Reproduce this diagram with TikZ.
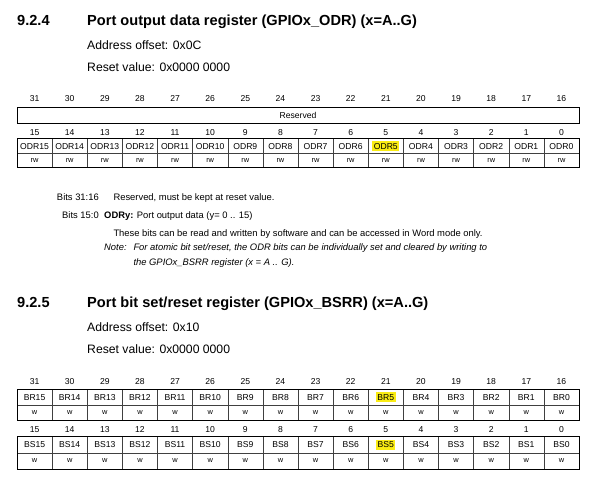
\documentclass[tikz,border=0pt]{standalone}
\usepackage{fontspec}
\setmainfont{Liberation Sans}
\definecolor{hilite}{RGB}{250,236,20}
\begin{document}
\begin{tikzpicture}[x=1pt,y=-1pt,
    sechead/.style={anchor=base west,inner sep=0pt,font=\fontsize{14.6}{17}\selectfont\bfseries},
    info/.style={anchor=base west,inner sep=0pt,font=\fontsize{12.2}{14}\selectfont},
    desc/.style={anchor=base west,inner sep=0pt,font=\fontsize{9.4}{11}\selectfont},
    bitno/.style={font=\fontsize{8.6}{10}\selectfont,inner sep=0pt},
    fieldname/.style={font=\fontsize{8.6}{10}\selectfont,inner xsep=1.5pt,inner ysep=2pt},
    acc/.style={font=\fontsize{7.4}{9}\selectfont,inner sep=0pt},
    hl/.style={fill=hilite},
    outer/.style={line width=0.9pt},
    inner/.style={line width=0.45pt,black!75}]
  \useasboundingbox (0,0) rectangle (605,483);

  % 9.2.4 GPIOx_ODR
  \node[sechead] (numA) at (17,25.5) {9.2.4};
  \node[sechead] (titleA) at (87,25.5) {Port output data register (GPIOx\_ODR) (x=A..G)};
  \node[info] (offA) at (87,49.3) {Address offset: 0x0C};
  \node[info] (rstA) at (87,71) {Reset value: 0x0000 0000};

  \draw[outer] (17,107) rectangle (579,123);
  \node[fieldname] (rsv) at (298,115) {Reserved};
  \foreach \i in {1,...,15}
    \draw[inner] ({17+35.125*\i},138.3) -- ({17+35.125*\i},167.3);
  \draw[inner] (17,153) -- (579,153);
  \draw[outer] (17,138.3) rectangle (579,167.3);
  \foreach \i in {0,...,15} {
    \pgfmathtruncatemacro\hi{31-\i}
    \pgfmathtruncatemacro\lo{15-\i}
    \ifnum\lo=5 \def\fs{hl}\else\def\fs{}\fi
    \node[bitno] (odrn\hi) at ({34.56+35.125*\i},98.3) {\hi};
    \node[bitno] (odrn\lo) at ({34.56+35.125*\i},132.7) {\lo};
    \node[fieldname,\fs] (odr\lo) at ({34.56+35.125*\i},146.3) {ODR\lo};
    \node[acc] (odra\lo) at ({34.56+35.125*\i},160.3) {rw};
  }

  % field description
  \node[desc,anchor=base east] (bitsA) at (99,200) {Bits 31:16};
  \node[desc] (bitsAtxt) at (113.3,200) {Reserved, must be kept at reset value.};
  \node[desc,anchor=base east] (bitsB) at (99,218.3) {Bits 15:0};
  \node[desc] (bitsBtxt) at (104,218.3) {\textbf{ODRy:} Port output data (y= 0 .. 15)};
  \node[desc] (rwtxt) at (113.3,236.7) {These bits can be read and written by software and can be accessed in Word mode only.};
  \node[desc] (note) at (104,250) {\itshape Note:};
  \node[desc] (noteA) at (133.3,250) {\itshape For atomic bit set/reset, the ODR bits can be individually set and cleared by writing to};
  \node[desc] (noteB) at (133.3,265) {\itshape the GPIOx\_BSRR register (x = A .. G).};

  % 9.2.5 GPIOx_BSRR
  \node[sechead] (numB) at (17,307.3) {9.2.5};
  \node[sechead] (titleB) at (87,307.3) {Port bit set/reset register (GPIOx\_BSRR) (x=A..G)};
  \node[info] (offB) at (87,331.7) {Address offset: 0x10};
  \node[info] (rstB) at (87,353.3) {Reset value: 0x0000 0000};

  \foreach \i in {1,...,15} {
    \draw[inner] ({17+35.125*\i},389) -- ({17+35.125*\i},420.7);
    \draw[inner] ({17+35.125*\i},436.7) -- ({17+35.125*\i},469);
  }
  \draw[inner] (17,405) -- (579,405);
  \draw[inner] (17,453.3) -- (579,453.3);
  \draw[outer] (17,389) rectangle (579,420.7);
  \draw[outer] (17,436.7) rectangle (579,469);
  \foreach \i in {0,...,15} {
    \pgfmathtruncatemacro\hi{31-\i}
    \pgfmathtruncatemacro\lo{15-\i}
    \ifnum\lo=5 \def\fs{hl}\else\def\fs{}\fi
    \node[bitno] (bsrrn\hi) at ({34.56+35.125*\i},381.7) {\hi};
    \node[fieldname,\fs] (br\lo) at ({34.56+35.125*\i},397.3) {BR\lo};
    \node[acc] (bra\lo) at ({34.56+35.125*\i},412.7) {w};
    \node[bitno] (bsrrn\lo) at ({34.56+35.125*\i},429.3) {\lo};
    \node[fieldname,\fs] (bs\lo) at ({34.56+35.125*\i},445) {BS\lo};
    \node[acc] (bsa\lo) at ({34.56+35.125*\i},460.7) {w};
  }
\end{tikzpicture}
\end{document}
